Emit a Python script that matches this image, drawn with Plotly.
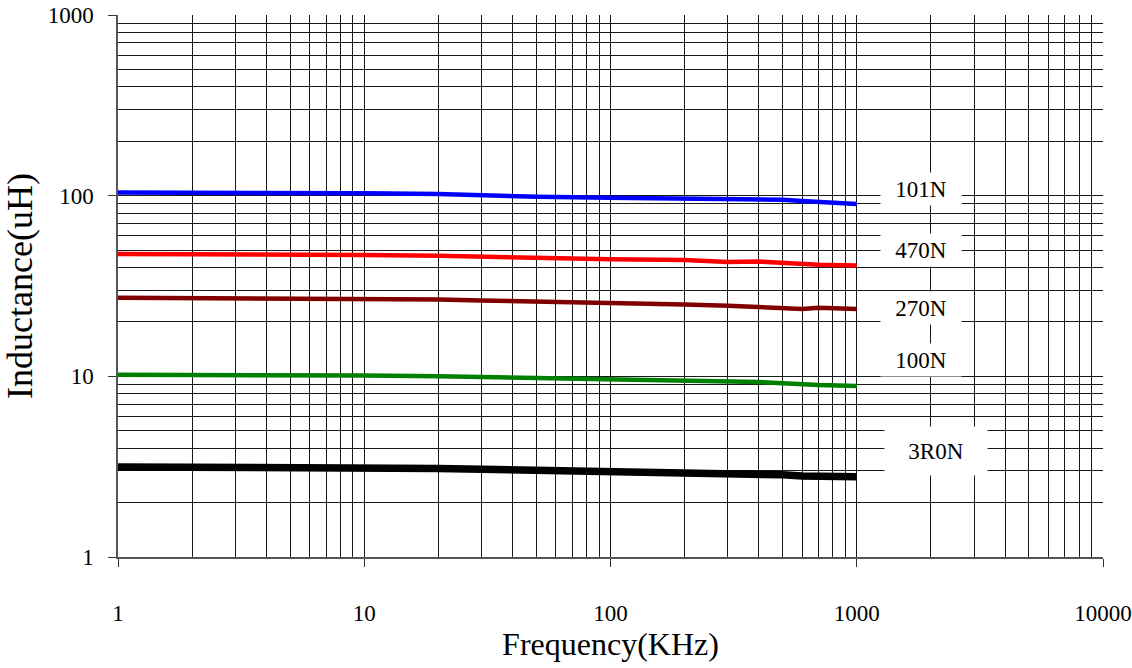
import plotly.graph_objects as go

freq = [1, 2, 5, 10, 20, 30, 50, 100, 200, 300, 400, 500, 600, 700, 1000]

l_101n = [104, 104, 103.5, 103, 102, 100, 98.5, 97.5, 97, 96.5, 96, 95, 93.5, 92.5, 90]
l_470n = [47.5, 47.5, 47.5, 47, 46.5, 46, 45, 44.5, 44, 43, 43.2, 42.5, 41.8, 41.5, 41]
l_270n = [27.2, 27.1, 27, 26.8, 26.6, 26.3, 26, 25.3, 25, 24.6, 24.3, 23.8, 23.6, 24, 23.6]
l_100n = [10.2, 10.2, 10.15, 10.1, 10.0, 9.9, 9.8, 9.7, 9.5, 9.4, 9.3, 9.15, 9.0, 8.95, 8.85]
l_3r0n = [3.15, 3.15, 3.14, 3.12, 3.09, 3.06, 3.03, 3.0, 2.97, 2.94, 2.9, 2.85, 2.81, 2.8, 2.78]

series = [
    ("101N", l_101n, "#0000ff", 4.5),
    ("470N", l_470n, "#ff0000", 4.5),
    ("270N", l_270n, "#800000", 4.5),
    ("100N", l_100n, "#008000", 4.5),
    ("3R0N", l_3r0n, "#000000", 7.5),
]

# label positions (log10 units)
label_x = [3.262, 3.262, 3.262, 3.262, 3.322]
label_y = [2.035, 1.70, 1.38, 1.09, 0.585]

x_ticks = [1, 10, 100, 1000, 10000]
y_ticks = [1, 10, 100, 1000]
minor_vals = [m * d for d in [1, 10, 100, 1000] for m in range(2, 10)]
y_minor_vals = [m * d for d in [1, 10, 100] for m in range(2, 10)]

FONT = "Liberation Serif"
GRID = "#1a1a1a"

fig = go.Figure()
for name, vals, color, w in series:
    fig.add_trace(go.Scatter(x=freq, y=vals, mode="lines", name=name,
                             line=dict(color=color, width=w), showlegend=False))

for (name, _, _, _), lx, ly in zip(series, label_x, label_y):
    fig.add_annotation(x=lx, y=ly, xref="x", yref="y", text=name, showarrow=False,
                       font=dict(family=FONT, size=23, color="black"),
                       bgcolor="white", width=100 if name == "3R0N" else 78,
                       height=46 if name == "3R0N" else 30)

fig.update_layout(
    width=1132, height=668, autosize=False,
    margin=dict(l=118, r=29, t=15, b=111),
    paper_bgcolor="white", plot_bgcolor="white",
    font=dict(family=FONT, color="black", size=23),
)
fig.update_xaxes(
    type="log", range=[0, 4], automargin=False,
    tickvals=x_ticks, ticktext=[str(v) for v in x_ticks],
    ticks="outside", ticklen=8, tickcolor="#333", tickwidth=1,
    ticklabelstandoff=27,
    showgrid=True, gridcolor=GRID, gridwidth=1,
    minor=dict(tickvals=minor_vals, showgrid=True, gridcolor=GRID, gridwidth=1, ticks=""),
    showline=True, linecolor="#555", linewidth=1.5, mirror=False,
    zeroline=False,
    tickfont=dict(family=FONT, size=23),
    title=dict(text="Frequency(KHz)", font=dict(family=FONT, size=32), standoff=4),
)
fig.update_yaxes(
    type="log", range=[0, 3], automargin=False,
    tickvals=y_ticks, ticktext=[str(v) for v in y_ticks],
    ticks="outside", ticklen=8, tickcolor="#333", tickwidth=1,
    ticklabelstandoff=10,
    showgrid=True, gridcolor=GRID, gridwidth=1,
    minor=dict(tickvals=y_minor_vals, showgrid=True, gridcolor=GRID, gridwidth=1, ticks=""),
    showline=True, linecolor="#555", linewidth=1.5, mirror=False,
    zeroline=False,
    tickfont=dict(family=FONT, size=23),
    title=dict(text="Inductance(uH)", font=dict(family=FONT, size=36), standoff=10),
)

fig.write_html("out.html", config={"displayModeBar": False},
               post_script="document.body.style.margin='0';")
